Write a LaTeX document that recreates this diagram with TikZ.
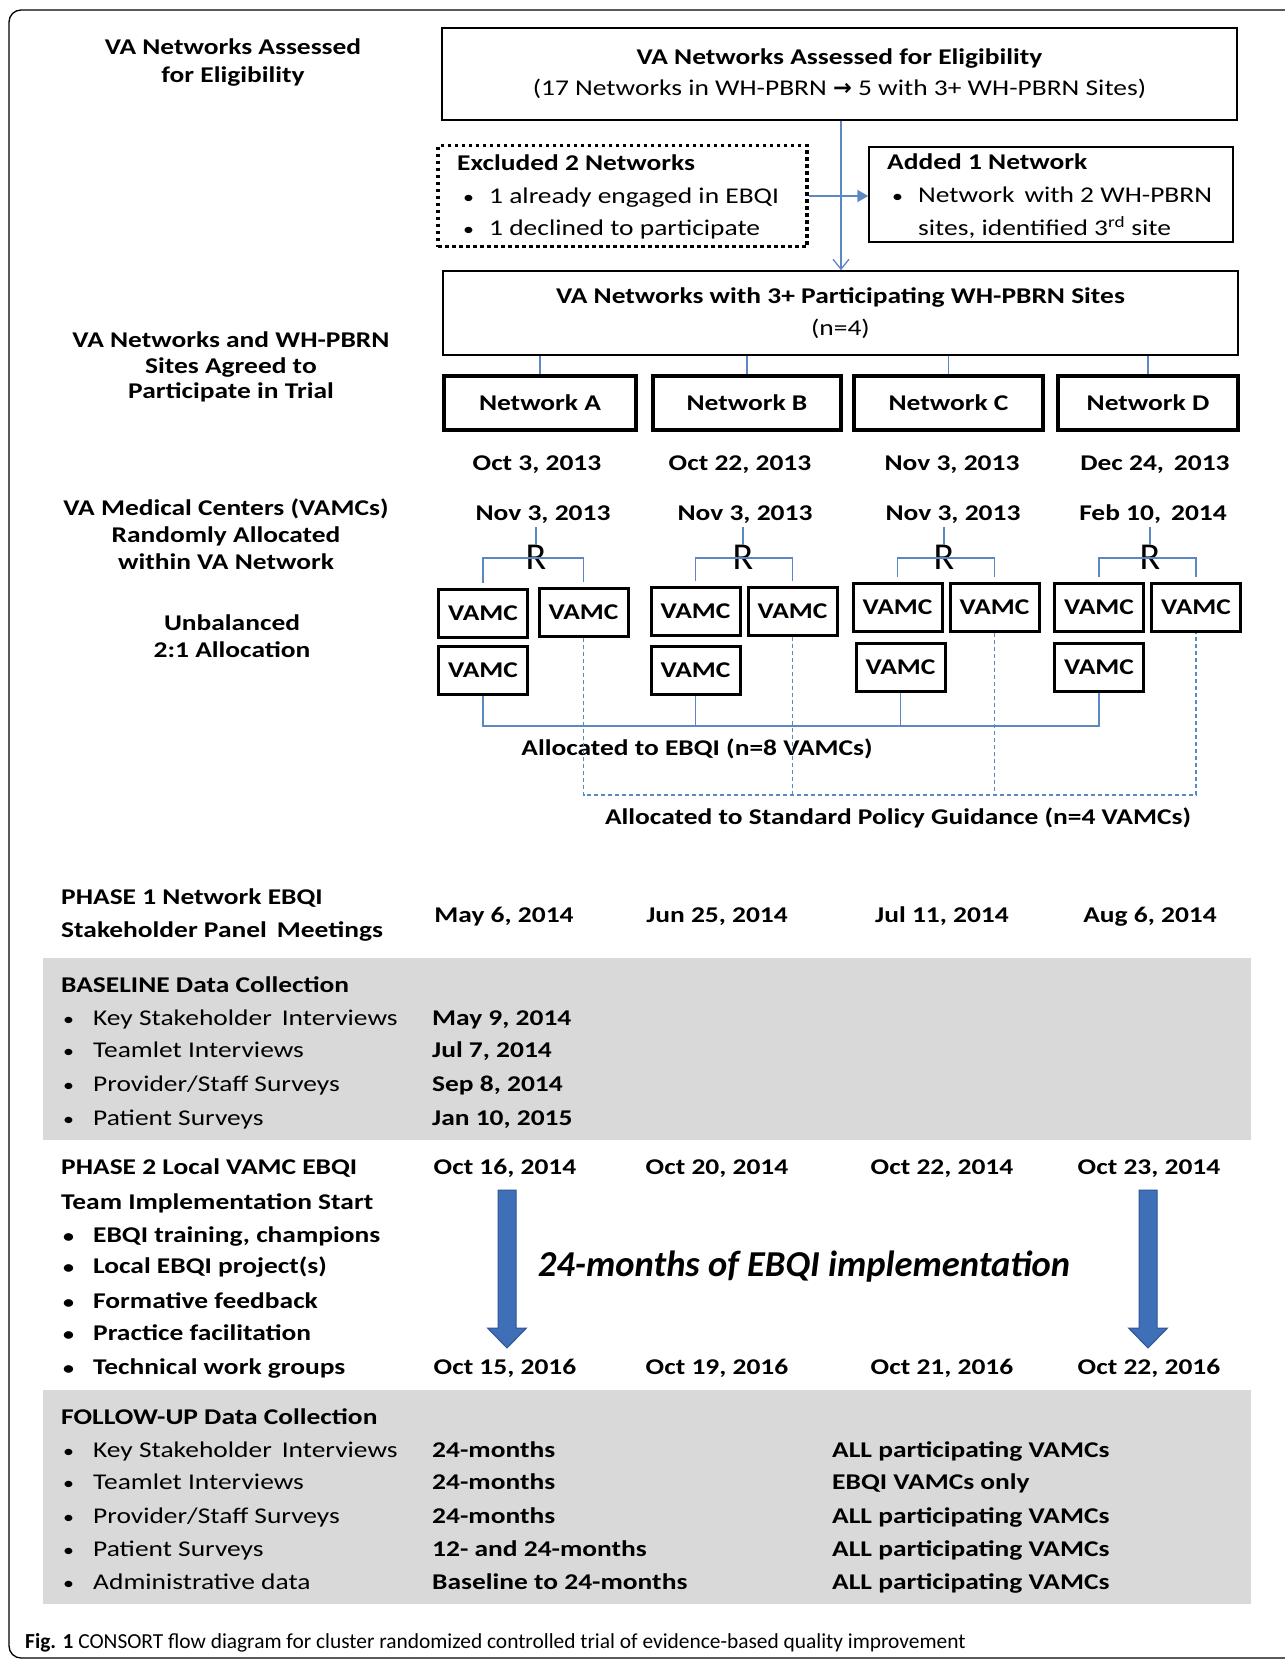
\documentclass[tikz,border=0pt]{standalone}
\usepackage{fontspec}
\setmainfont{Carlito}[FakeStretch=1.22]
\newfontfamily\capfont{Carlito}
\newfontfamily\symfont{DejaVu Sans}
\usetikzlibrary{arrows.meta,calc}
\definecolor{linec}{HTML}{5B88C4}
\definecolor{bandc}{HTML}{D9D9D9}
\definecolor{arrfill}{HTML}{3F6FB6}
\definecolor{arrdraw}{HTML}{2F5597}
\newcommand\myfs{\fontsize{22.5}{28}\selectfont}
\newcommand\bul{{\fontsize{18}{18}\selectfont •}}
\begin{document}
\begin{tikzpicture}[x=1pt,y=-1pt,
  conn/.style={draw=linec,line width=1.3pt},
  dconn/.style={draw=linec,line width=1.3pt,dash pattern=on 4pt off 3pt},
  plainbox/.style={draw=black,line width=1.5pt,inner sep=0pt},
  netbox/.style={draw=black,line width=3.2pt,minimum height=54pt,inner sep=0pt,font=\myfs\bfseries},
  vamc/.style={draw=black,line width=3pt,minimum width=89pt,minimum height=48pt,inner sep=0pt,font=\myfs\bfseries},
  lbl/.style={inner sep=0pt,align=center},
  bt/.style={inner sep=0pt,anchor=base west,font=\myfs\bfseries},
  rt/.style={inner sep=0pt,anchor=base west,font=\myfs},
  bc/.style={inner sep=0pt,anchor=base,font=\myfs\bfseries},
  rr/.style={inner sep=0pt,font=\capfont\fontsize{38}{38}\selectfont},
  bigarrow/.style={fill=arrfill,draw=arrdraw,line width=1pt}
]
\useasboundingbox (0,0) rectangle (1285,1660);
\fill[white] (0,0) rectangle (1285,1660);
\begin{scope}
\clip (0,0) rectangle (1285,1660);
\draw[line width=1.3pt,rounded corners=12pt] (9,10) rectangle (1330,1658);
\end{scope}

% grey bands
\fill[bandc] (43,958) rectangle (1251,1140);
\fill[bandc] (43,1390) rectangle (1251,1604);

% top box
\node[plainbox,minimum width=795pt,minimum height=92pt,align=center,font=\fontsize{22.5}{31}\selectfont] (top) at (839.5,74)
  {\textbf{VA Networks Assessed for Eligibility}\\(17 Networks in WH-PBRN {\symfont\bfseries →} 5 with 3+ WH-PBRN Sites)};

% excluded box
\node[draw=black,line width=3.5pt,dash pattern=on 3.5pt off 3.5pt,minimum width=369pt,minimum height=101pt,inner sep=0pt] (excl) at (622.5,196) {};
\node[bt] (exh) at (457,170) {Excluded 2 Networks};
\node[rt] (exb1) at (463,203) {\bul};
\node[rt] (ext1) at (489,203) {1 already engaged in EBQI};
\node[rt] (exb2) at (463,235) {\bul};
\node[rt] (ext2) at (489,235) {1 declined to participate};

% added box
\node[plainbox,minimum width=364pt,minimum height=95pt] (added) at (1051,194.5) {};
\node[bt] (adh) at (887,169) {Added 1 Network};
\node[rt] (adb1) at (892,202) {\bul};
\node[rt] (adt1) at (918,202) {Network\, with 2 WH-PBRN};
\node[rt] (adt2) at (918,235) {sites, identified 3\textsuperscript{rd} site};

% box 2
\node[plainbox,minimum width=795pt,minimum height=84pt,align=center,font=\fontsize{22.5}{32}\selectfont] (box2) at (840.5,313)
  {\textbf{VA Networks with 3+ Participating WH-PBRN Sites}\\(n=4)};

\coordinate (ax) at (841,0);
\draw[conn,-{Straight Barb[length=10pt,width=16pt,line width=1.3pt]}] (top.south -| ax) -- (box2.north -| ax);
\draw[draw=linec,line width=2.2pt,-{Triangle[length=11pt,width=12pt]}] (excl.east) -- (excl.east -| added.west);

% networks
\node[netbox,minimum width=192pt] (netA) at (540,403) {Network A};
\node[netbox,minimum width=188pt] (netB) at (747,403) {Network B};
\node[netbox,minimum width=189pt] (netC) at (948.5,403) {Network C};
\node[netbox,minimum width=180pt] (netD) at (1148,403) {Network D};
\foreach \n in {netA,netB,netC,netD} \draw[conn] (box2.south -| \n.north) -- (\n.north);

% dates
\node[bc] (dA1) at (537,470) {Oct 3, 2013};
\node[bc] (dB1) at (740,470) {Oct 22, 2013};
\node[bc] (dC1) at (952,470) {Nov 3, 2013};
\node[bc] (dD1) at (1155,470) {Dec 24,\, 2013};
\node[bc] (dA2) at (543,520) {Nov 3, 2013};
\node[bc] (dB2) at (745,520) {Nov 3, 2013};
\node[bc] (dC2) at (953,520) {Nov 3, 2013};
\node[bc] (dD2) at (1153,520) {Feb 10,\, 2014};

% VAMC boxes
\node[vamc] (vA1) at (483,613) {VAMC};
\node[vamc] (vA2) at (583.5,612) {VAMC};
\node[vamc] (vA3) at (483,670.5) {VAMC};
\node[vamc] (vB1) at (695.5,611) {VAMC};
\node[vamc] (vB2) at (792.5,611) {VAMC};
\node[vamc] (vB3) at (695.5,670.5) {VAMC};
\node[vamc] (vC1) at (897.5,607.5) {VAMC};
\node[vamc] (vC2) at (994.5,607.5) {VAMC};
\node[vamc] (vC3) at (900.5,667.5) {VAMC};
\node[vamc] (vD1) at (1099,607.5) {VAMC};
\node[vamc] (vD2) at (1196,607.5) {VAMC};
\node[vamc] (vD3) at (1099,667.5) {VAMC};

% randomisation brackets
\coordinate (brk) at (0,558);
\foreach \c/\x in {A/536,B/743,C/944,D/1150}{
  \node[rr] (r\c) at (\x,557) {R};
  \draw[conn] ([yshift=-4pt]d\c2.south -| r\c.north) -- (r\c.north);
  \draw[conn] ([yshift=5pt]v\c1.north) -- (v\c1.north |- brk) -- (v\c2.north |- brk) -- ([yshift=5pt]v\c2.north);
}

% EBQI allocation
\coordinate (ebq) at (0,726);
\draw[conn] (vA3.south) -- (vA3.south |- ebq) -- (vD3.south |- ebq) -- (vD3.south);
\draw[conn] (vB3.south) -- (vB3.south |- ebq);
\draw[conn] (vC3.south) -- (vC3.south |- ebq);
\node[bc] (ebqtxt) at (697,755) {Allocated to EBQI (n=8 VAMCs)};

% standard guidance
\coordinate (spg) at (0,795);
\draw[dconn] (vA2.south) -- (vA2.south |- spg) -- (vD2.south |- spg) -- (vD2.south);
\draw[dconn] (vB2.south) -- (vB2.south |- spg);
\draw[dconn] (vC2.south) -- (vC2.south |- spg);
\node[bc] (spgtxt) at (898,824) {Allocated to Standard Policy Guidance (n=4 VAMCs)};

% left labels
\node[lbl,font=\fontsize{22.5}{28}\selectfont\bfseries] (l1) at (233,63) {VA Networks Assessed\\for Eligibility};
\node[lbl,font=\fontsize{22.5}{25.5}\selectfont\bfseries] (l2) at (231,367) {VA Networks and WH-PBRN\\Sites Agreed to\\Participate in Trial};
\node[lbl,font=\fontsize{22.5}{27}\selectfont\bfseries] (l3) at (226,534) {VA Medical Centers (VAMCs)\\Randomly Allocated\\within VA Network};
\node[lbl,font=\fontsize{22.5}{27}\selectfont\bfseries] (l4) at (232,636) {Unbalanced\\2:1 Allocation};

% phase 1
\node[bt] (p1a) at (61,904) {PHASE 1 Network EBQI};
\node[bt] (p1b) at (61,937) {Stakeholder Panel\, Meetings};
\node[bc] (p1d1) at (504,922) {May 6, 2014};
\node[bc] (p1d2) at (717,922) {Jun 25, 2014};
\node[bc] (p1d3) at (942,922) {Jul 11, 2014};
\node[bc] (p1d4) at (1150,922) {Aug 6, 2014};

% baseline
\node[bt] (bh) at (61,992) {BASELINE Data Collection};
\node[rt] (bb1) at (63,1025) {\bul}; \node[rt] (bi1) at (93,1025) {Key Stakeholder\, Interviews}; \node[bt] (bd1) at (432,1025) {May 9, 2014};
\node[rt] (bb2) at (63,1057) {\bul}; \node[rt] (bi2) at (93,1057) {Teamlet Interviews}; \node[bt] (bd2) at (432,1057) {Jul 7, 2014};
\node[rt] (bb3) at (63,1091) {\bul}; \node[rt] (bi3) at (93,1091) {Provider/Staff Surveys}; \node[bt] (bd3) at (432,1091) {Sep 8, 2014};
\node[rt] (bb4) at (63,1125) {\bul}; \node[rt] (bi4) at (93,1125) {Patient Surveys}; \node[bt] (bd4) at (432,1125) {Jan 10, 2015};

% phase 2
\node[bt] (p2a) at (61,1174) {PHASE 2 Local VAMC EBQI};
\node[bt] (p2b) at (61,1209) {Team Implementation Start};
\node[bt] (pb1) at (63,1242) {\bul}; \node[bt] (pi1) at (93,1242) {EBQI training, champions};
\node[bt] (pb2) at (63,1273) {\bul}; \node[bt] (pi2) at (93,1273) {Local EBQI project(s)};
\node[bt] (pb3) at (63,1308) {\bul}; \node[bt] (pi3) at (93,1308) {Formative feedback};
\node[bt] (pb4) at (63,1340) {\bul}; \node[bt] (pi4) at (93,1340) {Practice facilitation};
\node[bt] (pb5) at (63,1374) {\bul}; \node[bt] (pi5) at (93,1374) {Technical work groups};
\node[bc] (p2s1) at (505,1174) {Oct 16, 2014};
\node[bc] (p2s2) at (717,1174) {Oct 20, 2014};
\node[bc] (p2s3) at (942,1174) {Oct 22, 2014};
\node[bc] (p2s4) at (1149,1174) {Oct 23, 2014};
\node[bc] (p2e1) at (505,1374) {Oct 15, 2016};
\node[bc] (p2e2) at (717,1374) {Oct 19, 2016};
\node[bc] (p2e3) at (942,1374) {Oct 21, 2016};
\node[bc] (p2e4) at (1149,1374) {Oct 22, 2016};

\path[bigarrow] (498,1190) -- (516,1190) -- (516,1328) -- (526.5,1328) -- (507,1348) -- (487.5,1328) -- (498,1328) -- cycle;
\path[bigarrow] (1139,1190) -- (1157,1190) -- (1157,1328) -- (1167.5,1328) -- (1148,1348) -- (1128.5,1328) -- (1139,1328) -- cycle;
\node[inner sep=0pt,font=\capfont\fontsize{36.5}{36.5}\selectfont\bfseries\itshape] (impl) at (804,1267) {24-months of EBQI implementation};

% follow-up
\node[bt] (fh) at (61,1424) {FOLLOW-UP Data Collection};
\node[rt] (fb1) at (63,1457) {\bul}; \node[rt] (fi1) at (93,1457) {Key Stakeholder\, Interviews}; \node[bt] (fm1) at (432,1457) {24-months}; \node[bt] (fr1) at (832,1457) {ALL participating VAMCs};
\node[rt] (fb2) at (63,1489) {\bul}; \node[rt] (fi2) at (93,1489) {Teamlet Interviews}; \node[bt] (fm2) at (432,1489) {24-months}; \node[bt] (fr2) at (832,1489) {EBQI VAMCs only};
\node[rt] (fb3) at (63,1523) {\bul}; \node[rt] (fi3) at (93,1523) {Provider/Staff Surveys}; \node[bt] (fm3) at (432,1523) {24-months}; \node[bt] (fr3) at (832,1523) {ALL participating VAMCs};
\node[rt] (fb4) at (63,1556) {\bul}; \node[rt] (fi4) at (93,1556) {Patient Surveys}; \node[bt] (fm4) at (432,1556) {12- and 24-months}; \node[bt] (fr4) at (832,1556) {ALL participating VAMCs};
\node[rt] (fb5) at (63,1589) {\bul}; \node[rt] (fi5) at (93,1589) {Administrative data}; \node[bt] (fm5) at (432,1589) {Baseline to 24-months}; \node[bt] (fr5) at (832,1589) {ALL participating VAMCs};

% caption
\node[inner sep=0pt,anchor=base west,font=\capfont\fontsize{21.4}{21.4}\selectfont] (cap) at (25,1648)
  {\textbf{Fig. 1} CONSORT flow diagram for cluster randomized controlled trial of evidence-based quality improvement};
\end{tikzpicture}
\end{document}
